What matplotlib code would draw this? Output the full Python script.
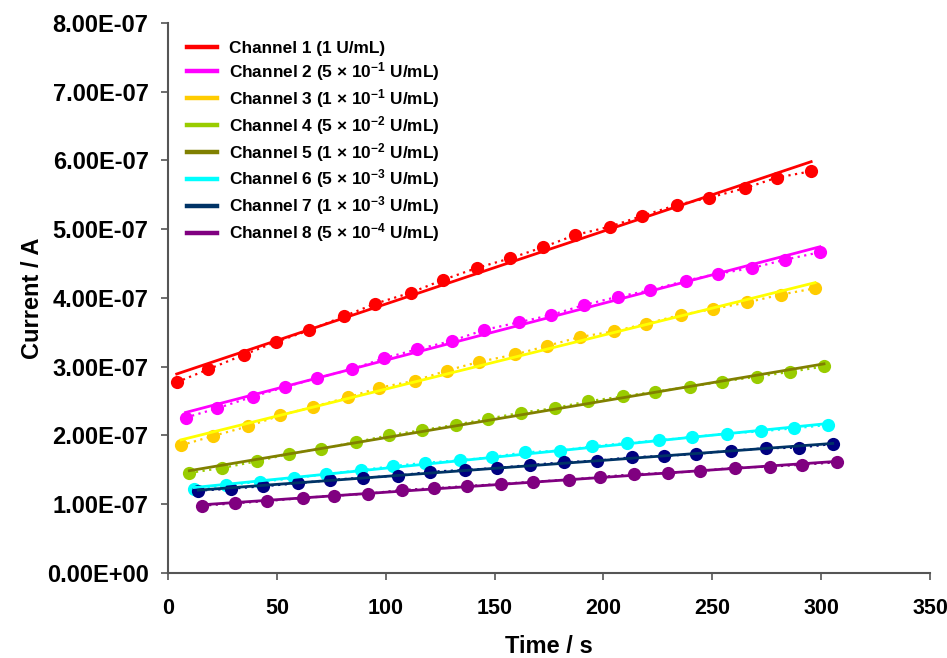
import numpy as np
import matplotlib.pyplot as plt
from matplotlib.lines import Line2D
from matplotlib.ticker import MultipleLocator, FuncFormatter

plt.rcParams['font.family'] = ['Liberation Sans', 'DejaVu Sans']
plt.rcParams['font.weight'] = 'bold'
plt.rcParams['mathtext.fontset'] = 'custom'
plt.rcParams['mathtext.rm'] = 'Liberation Sans:bold'
plt.rcParams['mathtext.it'] = 'Liberation Sans:bold:italic'
plt.rcParams['mathtext.bf'] = 'Liberation Sans:bold'

# time (s) and current (x 1e-7 A) per channel
t_ch1 = [4.0, 18.5, 34.9, 49.6, 64.8, 80.8, 95.2, 111.5, 126.2, 141.8,
         157.2, 172.1, 187.1, 202.9, 217.7, 233.7, 248.6, 264.9, 279.6, 295.4]
i_ch1 = [2.774, 2.963, 3.175, 3.360, 3.530, 3.734, 3.917, 4.077, 4.262, 4.436,
         4.577, 4.737, 4.916, 5.037, 5.193, 5.353, 5.459, 5.596, 5.750, 5.843]

t_ch2 = [8.1, 22.6, 38.9, 53.7, 68.4, 84.7, 99.2, 114.5, 130.3, 145.2,
         161.2, 176.1, 191.1, 206.8, 221.5, 237.8, 252.6, 268.4, 283.4, 299.4]
i_ch2 = [2.259, 2.396, 2.564, 2.705, 2.832, 2.967, 3.123, 3.254, 3.375, 3.535,
         3.647, 3.753, 3.898, 4.019, 4.112, 4.252, 4.353, 4.436, 4.557, 4.665]

t_ch3 = [6.0, 20.7, 36.9, 51.4, 66.7, 82.8, 97.1, 113.5, 128.2, 143.0,
         159.4, 174.0, 189.3, 205.0, 219.6, 235.4, 250.5, 266.1, 281.4, 297.2]
i_ch3 = [1.857, 1.993, 2.134, 2.291, 2.417, 2.556, 2.695, 2.797, 2.945, 3.072,
         3.178, 3.302, 3.433, 3.516, 3.626, 3.753, 3.840, 3.937, 4.048, 4.141]

t_ch4 = [9.8, 24.8, 40.9, 55.6, 70.3, 86.4, 101.4, 116.5, 132.2, 147.1,
         162.2, 177.8, 192.7, 209.1, 223.7, 239.8, 254.6, 270.4, 285.8, 301.3]
i_ch4 = [1.455, 1.527, 1.625, 1.731, 1.808, 1.905, 2.003, 2.077, 2.157, 2.244,
         2.332, 2.400, 2.497, 2.570, 2.637, 2.710, 2.785, 2.854, 2.926, 3.004]

t_ch6 = [12.1, 26.6, 42.3, 57.7, 72.4, 88.7, 103.5, 118.2, 134.3, 149.0,
         164.1, 180.1, 194.8, 211.0, 225.7, 240.8, 256.6, 272.4, 287.6, 303.3]
i_ch6 = [1.217, 1.276, 1.328, 1.377, 1.440, 1.494, 1.556, 1.603, 1.639, 1.687,
         1.756, 1.779, 1.843, 1.891, 1.930, 1.978, 2.026, 2.061, 2.105, 2.153]

t_ch7 = [13.9, 28.9, 43.5, 59.9, 74.6, 89.7, 105.5, 120.4, 136.4, 151.0,
         166.3, 182.0, 196.9, 213.0, 227.7, 242.5, 258.6, 274.6, 289.8, 305.3]
i_ch7 = [1.197, 1.226, 1.261, 1.305, 1.353, 1.386, 1.415, 1.473, 1.498, 1.527,
         1.571, 1.610, 1.633, 1.683, 1.702, 1.731, 1.779, 1.814, 1.823, 1.876]

t_ch8 = [15.8, 30.8, 45.6, 61.9, 76.4, 91.7, 107.3, 122.2, 137.5, 153.1,
         167.8, 184.2, 198.6, 214.2, 229.5, 244.5, 260.6, 276.4, 291.1, 307.4]
i_ch8 = [0.979, 1.014, 1.047, 1.091, 1.124, 1.153, 1.207, 1.232, 1.265, 1.295,
         1.328, 1.357, 1.396, 1.436, 1.455, 1.484, 1.532, 1.546, 1.575, 1.610]

legend_labels = [
    "Channel 1 (1 U/mL)",
    "Channel 2 (5 \u00d7 10$^{-1}$ U/mL)",
    "Channel 3 (1 \u00d7 10$^{-1}$ U/mL)",
    "Channel 4 (5 \u00d7 10$^{-2}$ U/mL)",
    "Channel 5 (1 \u00d7 10$^{-2}$ U/mL)",
    "Channel 6 (5 \u00d7 10$^{-3}$ U/mL)",
    "Channel 7 (1 \u00d7 10$^{-3}$ U/mL)",
    "Channel 8 (5 \u00d7 10$^{-4}$ U/mL)",
]
legend_colors = ["#FF0000", "#FF00FF", "#FFCC00", "#99CC00",
                 "#808000", "#00FFFF", "#003366", "#800080"]

# (times, currents, marker colour, fit line colour)
series = [
    (t_ch1, i_ch1, "#FF0000", "#FF0000"),
    (t_ch2, i_ch2, "#FF00FF", "#FF00FF"),
    (t_ch3, i_ch3, "#FFCC00", "#FFFF00"),
    (t_ch4, i_ch4, "#99CC00", "#808000"),
    (t_ch6, i_ch6, "#00FFFF", "#00FFFF"),
    (t_ch7, i_ch7, "#000080", "#003366"),
    (t_ch8, i_ch8, "#800080", "#800080"),
]

fig = plt.figure(figsize=(9.47, 6.58), dpi=100)
ax = fig.add_axes([0.1774, 0.1292, 0.8047, 0.8359])

for t, cur, mcol, fcol in series:
    t = np.array(t)
    y = np.array(cur) * 1e-7
    ax.plot(t, y, linestyle=(0, (1, 2)), linewidth=1.6, color=mcol,
            marker='o', markersize=9.5, markeredgewidth=0, zorder=3)
    # least-squares trend line over the measured span
    k, b = np.polyfit(t, y, 1)
    ax.plot([t[0], t[-1]], [k * t[0] + b, k * t[-1] + b], color=fcol,
            linewidth=2.0, zorder=4)

ax.set_xlim(0, 350)
ax.set_ylim(0, 8e-7)
ax.xaxis.set_major_locator(MultipleLocator(50))
ax.yaxis.set_major_locator(MultipleLocator(1e-7))
ax.yaxis.set_major_formatter(FuncFormatter(lambda v, p: f"{v:.2E}"))

for s in ['top', 'right']:
    ax.spines[s].set_visible(False)
for s in ['left', 'bottom']:
    ax.spines[s].set_color('#555555')
    ax.spines[s].set_linewidth(1.5)
ax.tick_params(direction='out', length=5, width=1.2, color='#555555')
ax.tick_params(axis='x', pad=13, labelsize=15.5)
ax.tick_params(axis='y', pad=9, labelsize=17)
for lab in ax.get_xticklabels() + ax.get_yticklabels():
    lab.set_fontweight('bold')

ax.set_xlabel("Time / s", fontsize=17, fontweight='bold', labelpad=11.5)
ax.set_ylabel("Current / A", fontsize=17, fontweight='bold', labelpad=2)

handles = [Line2D([], [], color=c, linewidth=3.2) for c in legend_colors]
ax.legend(handles, legend_labels, loc='upper left',
          bbox_to_anchor=(0.025, 0.967), frameon=False,
          borderpad=0, borderaxespad=0, handlelength=1.75,
          handletextpad=0.7, labelspacing=0.23,
          prop={'weight': 'bold', 'size': 12.4})

fig.savefig("out.png", dpi=100)
